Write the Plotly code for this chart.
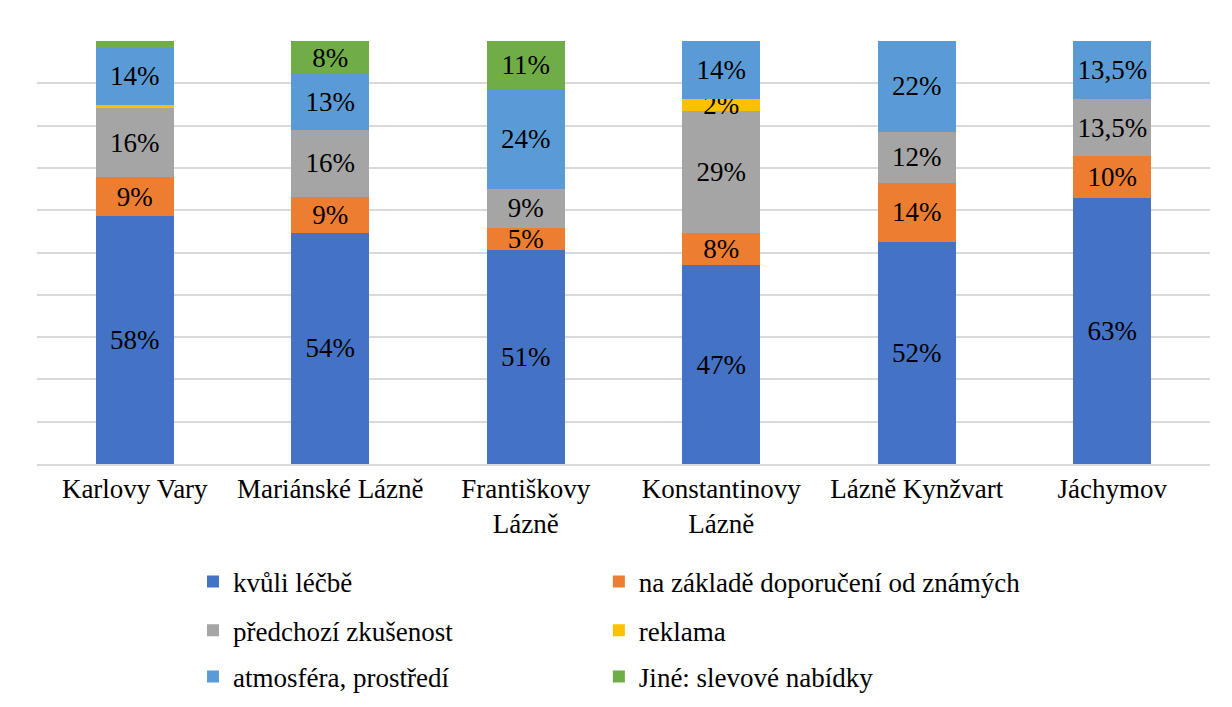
import plotly.graph_objects as go

spas = ["Karlovy Vary", "Mariánské Lázně", "Františkovy<br>Lázně",
        "Konstantinovy<br>Lázně", "Lázně Kynžvart", "Jáchymov"]

# shares in %
lecba = [58.4, 54.6, 50.6, 47, 52.5, 63]
doporuceni = [9, 8.5, 5.2, 7.6, 14, 9.7]
zkusenost = [16.3, 15.8, 9.2, 28.8, 12, 13.65]
reklama = [0.7, 0, 0, 2.8, 0, 0]
atmosfera = [13.5, 13.2, 23.6, 13.8, 21.5, 13.65]
jine = [1.6, 7.8, 11.3, 0, 0, 0]

lecba_lbl = ["58%", "54%", "51%", "47%", "52%", "63%"]
doporuceni_lbl = ["9%", "9%", "5%", "8%", "14%", "10%"]
zkusenost_lbl = ["16%", "16%", "9%", "29%", "12%", "13,5%"]
reklama_lbl = ["", "", "", "2%", "", ""]
atmosfera_lbl = ["14%", "13%", "24%", "14%", "22%", "13,5%"]
jine_lbl = ["", "8%", "11%", "", "", ""]

series = [
    ("kvůli léčbě", lecba, lecba_lbl, "#4472C4"),
    ("na základě doporučení od známých", doporuceni, doporuceni_lbl, "#ED7D31"),
    ("předchozí zkušenost", zkusenost, zkusenost_lbl, "#A5A5A5"),
    ("reklama", reklama, reklama_lbl, "#FFC000"),
    ("atmosféra, prostředí", atmosfera, atmosfera_lbl, "#5B9BD5"),
    ("Jiné: slevové nabídky", jine, jine_lbl, "#70AD47"),
]

FONT = "Liberation Serif"

# one small legend per entry: 2 columns x 3 rows
leg_x = [0.133, 0.479]
leg_y = [0.179, 0.109, 0.043]

fig = go.Figure()
legends = {}
for i, (name, vals, lbl, col) in enumerate(series):
    key = "legend" if i == 0 else f"legend{i + 1}"
    fig.add_trace(go.Bar(
        x=spas, y=vals, name=name, text=lbl,
        marker_color=col, marker_line_width=0,
        textposition="inside", insidetextanchor="middle", textangle=0,
        textfont=dict(family=FONT, size=27, color="black"),
        legend=key, showlegend=True,
    ))
    legends[key] = dict(xanchor="left", yanchor="middle",
                        x=leg_x[i % 2], y=leg_y[i // 2], yref="container",
                        font=dict(family=FONT, size=27, color="black"),
                        bgcolor="rgba(0,0,0,0)")

# page has an 8px body margin, so the figure is 8px smaller than the window
fig.update_layout(
    width=1224, height=699,
    margin=dict(l=29, r=22, t=33, b=243),
    showlegend=True,
    barmode="stack", barnorm="percent", bargap=0.6,
    plot_bgcolor="white", paper_bgcolor="white",
    uniformtext=dict(minsize=27, mode="show"),
    font=dict(family=FONT, size=27, color="black"),
    xaxis=dict(showline=True, linecolor="#D9D9D9", linewidth=1.5, ticks=""),
    yaxis=dict(range=[0, 100], dtick=10, showticklabels=False,
               gridcolor="#D9D9D9", gridwidth=1.5, zeroline=False),
    **legends,
)

fig.write_html("out.html")
